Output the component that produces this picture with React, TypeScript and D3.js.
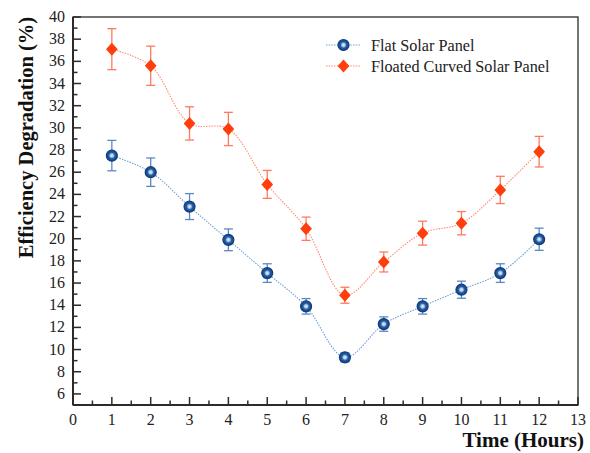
import * as d3 from "d3";

// ── Data ──────────────────────────────────────────────────────────
const hours = [1, 2, 3, 4, 5, 6, 7, 8, 9, 10, 11, 12];
const flatValues = [27.5, 26.0, 22.9, 19.9, 16.9, 13.9, 9.3, 12.3, 13.9, 15.4, 16.9, 19.95];
const flatErrors = [1.37, 1.28, 1.17, 0.98, 0.84, 0.7, 0.4, 0.65, 0.7, 0.77, 0.84, 1.0];
const curvedValues = [37.1, 35.6, 30.4, 29.9, 24.9, 20.9, 14.9, 17.9, 20.5, 21.4, 24.4, 27.85];
const curvedErrors = [1.85, 1.77, 1.5, 1.5, 1.26, 1.05, 0.72, 0.9, 1.08, 1.05, 1.23, 1.38];
const yTicks = d3.range(6, 41, 2);
const yMinor = d3.range(5, 41, 1);
const xTicks = d3.range(0, 14, 1);
const xMinor = d3.range(0, 13.01, 0.5);

const FONT = "Liberation Serif";
const AXIS_COLOR = "#2b2b2b";
const FLAT = { line: "#6f9fd6", err: "#5b88c2", dark: "#0f3f80", light: "#a9c8ec" };
const CURVED = { line: "#ff8c72", err: "#ff7a5c", fill: "#ff3d0d" };

const left = 73, right = 578, top = 17, bottom = 405;
const x = d3.scaleLinear().domain([0, 13]).range([left, right]);
const y = d3.scaleLinear().domain([5, 40]).range([bottom, top]);

const line = d3.line<number>()
  .x((_, i) => x(hours[i]))
  .y((d) => y(d))
  .curve(d3.curveCatmullRom.alpha(0.5));

const DR = 6.5;
const diamondPath = `M0,${-DR}L${DR * 0.9},0L0,${DR}L${-DR * 0.9},0Z`;

function Ball({ cx, cy }: { cx: number; cy: number }) {
  return <circle cx={cx} cy={cy} r={5.5} fill="url(#ball)" stroke={FLAT.dark} strokeWidth={1.2} />;
}

function Diamond({ cx, cy }: { cx: number; cy: number }) {
  return <path d={diamondPath} transform={`translate(${cx},${cy})`} fill={CURVED.fill} />;
}

function ErrorBars({ vals, errs, color }: { vals: number[]; errs: number[]; color: string }) {
  return (
    <g stroke={color} strokeWidth={1.3}>
      {vals.map((v, i) => {
        const cx = x(hours[i]);
        const y1 = y(v + errs[i]);
        const y2 = y(v - errs[i]);
        return (
          <g key={i}>
            <line x1={cx} x2={cx} y1={y1} y2={y2} />
            <line x1={cx - 4.5} x2={cx + 4.5} y1={y1} y2={y1} />
            <line x1={cx - 4.5} x2={cx + 4.5} y1={y2} y2={y2} />
          </g>
        );
      })}
    </g>
  );
}

const legendItems = [
  { label: "Flat Solar Panel", color: FLAT.line, y: 45, kind: "ball" },
  { label: "Floated Curved Solar Panel", color: CURVED.line, y: 66, kind: "diamond" },
];

export default function App() {
  return (
    <svg
      width={590}
      height={453}
      fontFamily={FONT}
      style={{ position: "absolute", left: 0, top: 0, background: "#fff" }}
    >
      <defs>
        <radialGradient id="ball" cx="50%" cy="50%" r="50%">
          <stop offset="0%" stopColor="#e8f1fb" />
          <stop offset="30%" stopColor={FLAT.light} />
          <stop offset="55%" stopColor="#2a5fa3" />
          <stop offset="100%" stopColor={FLAT.dark} />
        </radialGradient>
      </defs>

      {/* frame */}
      <rect x={left} y={top} width={right - left} height={bottom - top} fill="none" stroke={AXIS_COLOR} strokeWidth={1.3} />
      <line x1={left} x2={left} y1={top} y2={bottom} stroke={AXIS_COLOR} strokeWidth={2} />
      <line x1={left} x2={right} y1={bottom} y2={bottom} stroke={AXIS_COLOR} strokeWidth={2} />

      {/* y axis */}
      <g stroke={AXIS_COLOR} strokeWidth={1.5}>
        {yMinor.map((v) => (
          <line key={v} x1={left} x2={left + (v % 2 === 0 ? 8 : 4.5)} y1={y(v)} y2={y(v)} />
        ))}
      </g>
      {yTicks.map((v) => (
        <text key={v} x={left - 8} y={y(v) + 5} textAnchor="end" fontSize={16} fill="#222">
          {v}
        </text>
      ))}

      {/* x axis */}
      <g stroke={AXIS_COLOR} strokeWidth={1.5}>
        {xMinor.map((v) => (
          <line key={v} x1={x(v)} x2={x(v)} y1={bottom} y2={bottom - (Number.isInteger(v) ? 8 : 4.5)} />
        ))}
      </g>
      {xTicks.map((v) => (
        <text key={v} x={x(v)} y={bottom + 20} textAnchor="middle" fontSize={16} fill="#222">
          {v}
        </text>
      ))}

      {/* axis titles */}
      <text
        transform={`translate(33,${(top + 262) / 2 - 2}) rotate(-90)`}
        textAnchor="middle"
        fontSize={20.5}
        fontWeight="bold"
        fill="#111"
      >
        Efficiency Degradation (%)
      </text>
      <text x={584} y={447} textAnchor="end" fontSize={21} fontWeight="bold" fill="#111">
        Time (Hours)
      </text>

      {/* series */}
      <path d={line(flatValues) ?? ""} fill="none" stroke={FLAT.line} strokeWidth={1.1} strokeDasharray="1.5,1.2" />
      <ErrorBars vals={flatValues} errs={flatErrors} color={FLAT.err} />
      <path d={line(curvedValues) ?? ""} fill="none" stroke={CURVED.line} strokeWidth={1.1} strokeDasharray="1.5,1.2" />
      <ErrorBars vals={curvedValues} errs={curvedErrors} color={CURVED.err} />
      {flatValues.map((v, i) => <Ball key={`f${i}`} cx={x(hours[i])} cy={y(v)} />)}
      {curvedValues.map((v, i) => <Diamond key={`c${i}`} cx={x(hours[i])} cy={y(v)} />)}

      {/* legend */}
      {legendItems.map((it) => (
        <g key={it.label}>
          <line x1={326} x2={361} y1={it.y} y2={it.y} stroke={it.color} strokeWidth={1.1} strokeDasharray="1.5,1.2" />
          {it.kind === "ball" ? <Ball cx={343.5} cy={it.y} /> : <Diamond cx={343.5} cy={it.y} />}
          <text x={371} y={it.y + 5.5} fontSize={16.2} fill="#222">
            {it.label}
          </text>
        </g>
      ))}
    </svg>
  );
}
